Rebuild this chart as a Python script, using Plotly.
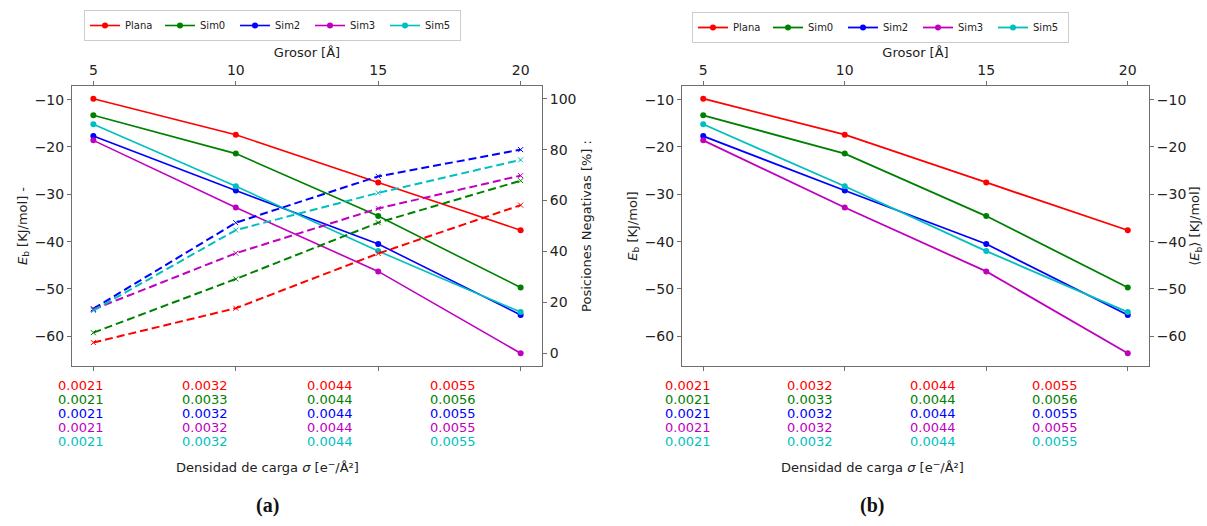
import plotly.graph_objects as go

# Thickness of the slab (top axis)
grosor = [5, 10, 15, 20]

# Binding energy E_b [KJ/mol] per configuration
series_names = ["Plana", "Sim0", "Sim2", "Sim3", "Sim5"]
eb_plana = [-9.8, -17.4, -27.5, -37.6]
eb_sim0 = [-13.3, -21.4, -34.6, -49.7]
eb_sim2 = [-17.7, -29.2, -40.5, -55.5]
eb_sim3 = [-18.6, -32.8, -46.3, -63.6]
eb_sim5 = [-15.2, -28.3, -42.0, -54.9]

# Share of negative positions [%]
neg_plana = [4.2, 17.7, 39.2, 58.2]
neg_sim0 = [8.1, 29.2, 51.3, 67.8]
neg_sim2 = [17.5, 51.3, 69.5, 80.0]
neg_sim3 = [17.2, 39.3, 56.9, 69.8]
neg_sim5 = [16.8, 48.4, 63.0, 76.0]

# Charge density sigma [e-/A^2] per configuration and thickness
sigma_plana = ["0.0021", "0.0032", "0.0044", "0.0055"]
sigma_sim0 = ["0.0021", "0.0033", "0.0044", "0.0056"]
sigma_sim2 = ["0.0021", "0.0032", "0.0044", "0.0055"]
sigma_sim3 = ["0.0021", "0.0032", "0.0044", "0.0055"]
sigma_sim5 = ["0.0021", "0.0032", "0.0044", "0.0055"]

colors = ["#ff0000", "#008000", "#0000ff", "#bf00bf", "#00bfbf"]
eb_all = [eb_plana, eb_sim0, eb_sim2, eb_sim3, eb_sim5]
neg_all = [neg_plana, neg_sim0, neg_sim2, neg_sim3, neg_sim5]
sigma_all = [sigma_plana, sigma_sim0, sigma_sim2, sigma_sim3, sigma_sim5]

W, H = 1207, 526
FONT = "DejaVu Sans"
AX_COL = "#6e6e6e"


def px(x):
    return x / W


def py(y):
    return 1 - y / H


# y range with a 5 % margin around the energies
lo = min(min(s) for s in eb_all)
hi = max(max(s) for s in eb_all)
pad = 0.05 * (hi - lo)
eb_range = [lo - pad, hi + pad]
x_range = [4.25, 20.75]

fig = go.Figure()

for name, col, eb, neg in zip(series_names, colors, eb_all, neg_all):
    # panel (a): energies (solid) and negative positions (dashed)
    fig.add_trace(go.Scatter(
        x=grosor, y=eb, name=name, mode="lines+markers",
        line=dict(color=col, width=1.6), marker=dict(size=6, color=col),
        xaxis="x", yaxis="y", legend="legend"))
    fig.add_trace(go.Scatter(
        x=grosor, y=neg, name=name, mode="lines+markers", showlegend=False,
        line=dict(color=col, width=2, dash="8px,4px"),
        marker=dict(size=5, color=col, symbol="x-thin", line=dict(width=1, color=col)),
        xaxis="x", yaxis="y2"))
    # panel (b): energies only
    fig.add_trace(go.Scatter(
        x=grosor, y=eb, name=name, mode="lines+markers",
        line=dict(color=col, width=1.8), marker=dict(size=6, color=col),
        xaxis="x2", yaxis="y3", legend="legend2"))

tick_font = dict(family=FONT, size=14, color="#222")
title_font = dict(family=FONT, size=13, color="#222")

common_x = dict(
    range=x_range, tickvals=grosor, side="top", showline=True, linecolor=AX_COL,
    linewidth=1, mirror="ticks", ticks="outside", ticklen=4, tickcolor=AX_COL,
    showgrid=False, zeroline=False, tickfont=tick_font,
    title=dict(text="Grosor [Å]", font=title_font, standoff=1))
common_y = dict(
    range=eb_range, tickvals=[-60, -50, -40, -30, -20, -10], showline=True,
    linecolor=AX_COL, linewidth=1, ticks="outside", ticklen=4, tickcolor=AX_COL,
    showgrid=False, zeroline=False, tickfont=tick_font)

dom_a = [px(72), px(542)]
dom_b = [px(682), px(1149)]
ydom = [py(366), py(86)]

legend_style = dict(orientation="h", xanchor="left", yanchor="top",
                    bordercolor="#cccccc", borderwidth=1, font=dict(family=FONT, size=10),
                    entrywidth=30, entrywidthmode="pixels", itemwidth=30)

fig.update_layout(
    width=W, height=H, margin=dict(l=0, r=0, t=0, b=0),
    paper_bgcolor="white", plot_bgcolor="white",
    font=dict(family=FONT, color="#222"),
    xaxis=dict(domain=dom_a, anchor="y", **common_x),
    yaxis=dict(domain=ydom, anchor="x", side="left", **common_y,
               title=dict(text="<i>E</i><sub>b</sub> [KJ/mol] -", font=title_font, standoff=4)),
    yaxis2=dict(overlaying="y", anchor="x", side="right", range=[-5, 105],
                tickvals=[0, 20, 40, 60, 80, 100], showline=True, linecolor=AX_COL,
                ticks="outside", ticklen=4, tickcolor=AX_COL, showgrid=False,
                zeroline=False, tickfont=tick_font,
                title=dict(text="Posiciones Negativas [%] :", font=title_font, standoff=6)),
    xaxis2=dict(domain=dom_b, anchor="y3", **common_x),
    yaxis3=dict(domain=ydom, anchor="x2", side="left", **common_y,
                title=dict(text="<i>E</i><sub>b</sub> [KJ/mol]", font=title_font, standoff=4)),
    yaxis4=dict(overlaying="y3", anchor="x2", side="right", matches="y3",
                **{k: v for k, v in common_y.items() if k != "range"},
                title=dict(text="⟨<i>E</i><sub>b</sub>⟩ [KJ/mol]", font=title_font, standoff=4)),
    legend=dict(x=px(84), y=py(10), **legend_style),
    legend2=dict(x=px(692), y=py(12), **legend_style),
)

# keep the mirrored right axis of panel (b) drawn
fig.add_trace(go.Scatter(x=grosor, y=eb_plana, mode="lines", line=dict(width=0),
                         opacity=0, showlegend=False, hoverinfo="skip",
                         xaxis="x2", yaxis="y4"))

# colour-coded charge-density labels under each panel
label_cols_a = [80.5, 205, 329.5, 452.5]
label_cols_b = [688, 810, 932.5, 1054.5]
row_y = [385, 399.2, 413.4, 427.6, 441.8]
for cols in (label_cols_a, label_cols_b):
    for r, (sig, col) in enumerate(zip(sigma_all, colors)):
        for cx, val in zip(cols, sig):
            fig.add_annotation(x=px(cx), y=py(row_y[r]), xref="paper", yref="paper",
                               text=val, showarrow=False, xanchor="center", yanchor="middle",
                               font=dict(family=FONT, size=13, color=col))

for cx, tag in ((267.5, "(a)"), (872.5, "(b)")):
    fig.add_annotation(x=px(cx), y=py(467), xref="paper", yref="paper",
                       text="Densidad de carga <i>σ</i> [e<sup>−</sup>/Å²]", showarrow=False,
                       xanchor="center", yanchor="middle", font=title_font)
    fig.add_annotation(x=px(cx), y=py(505), xref="paper", yref="paper",
                       text=f"<b>{tag}</b>", showarrow=False, xanchor="center",
                       yanchor="middle", font=dict(family="Liberation Serif", size=20, color="#111"))

fig.write_html("out.html")
